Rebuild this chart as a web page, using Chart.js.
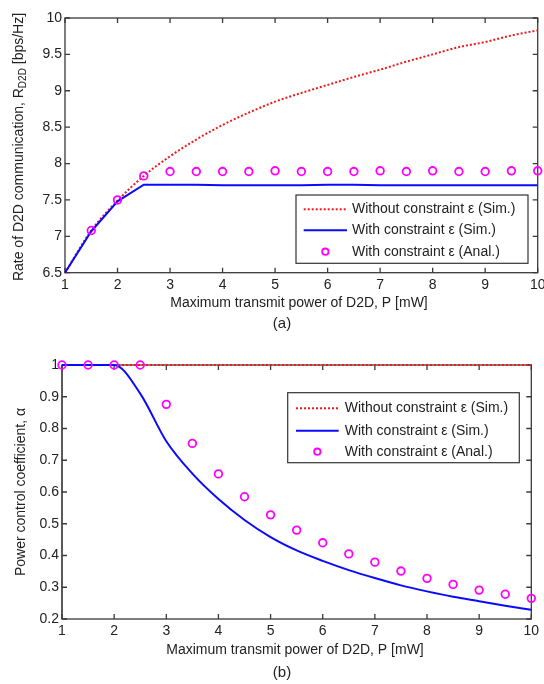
<!DOCTYPE html>
<html><head><meta charset="utf-8">
<script src="https://cdn.jsdelivr.net/npm/chart.js@4.4.1/dist/chart.umd.min.js"></script>
<style>
html,body{margin:0;padding:0;background:#fff;}
#wrap{position:relative;width:544px;height:684px;overflow:hidden;background:#fff;}
.c{position:absolute;left:0;width:544px;}
</style></head><body>
<div id="wrap">
<div class="c" style="top:0;height:340px"><canvas id="c1"></canvas></div>
<div class="c" style="top:340px;height:344px"><canvas id="c2"></canvas></div>
</div>
<script>
// ---------- data ----------
const powerP = [1,1.5,2,2.5,3,3.5,4,4.5,5,5.5,6,6.5,7,7.5,8,8.5,9,9.5,10];
// (a) rate of D2D communication
const rateWithoutSim = [6.5,7.08,7.49,7.83,8.1,8.33,8.53,8.7,8.85,8.97,9.08,9.19,9.29,9.4,9.5,9.6,9.67,9.76,9.83];
const rateWithSim    = [6.5,7.07,7.48,7.71,7.71,7.71,7.70,7.70,7.70,7.70,7.71,7.71,7.70,7.70,7.70,7.70,7.70,7.70,7.70];
const rateAnalP      = [1.5,2,2.5,3,3.5,4,4.5,5,5.5,6,6.5,7,7.5,8,8.5,9,9.5,10];
const rateWithAnal   = [7.08,7.5,7.83,7.89,7.89,7.89,7.89,7.9,7.89,7.89,7.89,7.9,7.89,7.9,7.89,7.89,7.9,7.9];
// (b) power control coefficient
const alphaWithoutSim = [1,1,1,1,1,1,1,1,1,1,1,1,1,1,1,1,1,1,1];
const alphaWithSim    = [1,1,1,0.91,0.76,0.658,0.578,0.512,0.458,0.416,0.383,0.354,0.329,0.306,0.287,0.27,0.256,0.242,0.229];
const alphaWithAnal   = [1,1,1,1,0.876,0.753,0.657,0.585,0.528,0.48,0.44,0.405,0.379,0.351,0.328,0.309,0.291,0.278,0.265];
// ticks
const xTicks = [1,2,3,4,5,6,7,8,9,10];
const xTickLabels = ['1','2','3','4','5','6','7','8','9','10'];
const yTicksRate = [6.5,7,7.5,8,8.5,9,9.5,10];
const yTickLabelsRate = ['6.5','7','7.5','8','8.5','9','9.5','10'];
const yTicksAlpha = [0.2,0.3,0.4,0.5,0.6,0.7,0.8,0.9,1];
const yTickLabelsAlpha = ['0.2','0.3','0.4','0.5','0.6','0.7','0.8','0.9','1'];
const seriesNames = ['Without constraint ε (Sim.)','With constraint ε (Sim.)','With constraint ε (Anal.)'];

// ---------- styling ----------
const FONT = '"Liberation Sans", Arial, sans-serif';
const TXT = '#222';
const RED = '#f01818', BLUE = '#0a0aff', MAG = '#ff00ff';
Chart.defaults.font.family = FONT;
Chart.defaults.color = TXT;

function pts(xs, ys){ return xs.map((x,i)=>({x:x, y:ys[i]})); }

function decorPlugin(cfg){
  return {
    id:'decor',
    beforeDatasetsDraw(chart){
      const {ctx, chartArea:a} = chart;
      const xs = chart.scales.x, ys = chart.scales.y;
      ctx.save();
      ctx.strokeStyle = '#3a3a3a';
      ctx.lineWidth = 1.3;
      ctx.strokeRect(a.left, a.top, a.right-a.left, a.bottom-a.top);
      if (cfg.leftAxisW){
        ctx.strokeStyle = '#5a5a5a'; ctx.lineWidth = cfg.leftAxisW;
        ctx.beginPath(); ctx.moveTo(a.left, a.top); ctx.lineTo(a.left, a.bottom); ctx.stroke();
        ctx.strokeStyle = '#3a3a3a'; ctx.lineWidth = 1.3;
      }
      const TL = 5;
      ctx.beginPath();
      xTicks.forEach(v=>{
        const px = xs.getPixelForValue(v);
        ctx.moveTo(px, a.bottom); ctx.lineTo(px, a.bottom-TL);
        ctx.moveTo(px, a.top); ctx.lineTo(px, a.top+TL);
      });
      cfg.yTicks.forEach(v=>{
        const py = ys.getPixelForValue(v);
        ctx.moveTo(a.left, py); ctx.lineTo(a.left+TL, py);
        ctx.moveTo(a.right, py); ctx.lineTo(a.right-TL, py);
      });
      ctx.stroke();
      ctx.restore();
    },
    afterDraw(chart){
      const {ctx} = chart;
      ctx.save();
      ctx.fillStyle = TXT;
      ctx.font = '14px ' + FONT;
      ctx.textAlign = 'center'; ctx.textBaseline = 'middle';
      ctx.fillText(cfg.xTitle, cfg.xTitlePos[0], cfg.xTitlePos[1]);
      ctx.font = '15px ' + FONT;
      ctx.fillText(cfg.panel, cfg.panelPos[0], cfg.panelPos[1]);
      ctx.save();
      ctx.translate(cfg.yTitlePos[0], cfg.yTitlePos[1]);
      ctx.rotate(-Math.PI/2);
      ctx.textAlign = 'left'; ctx.textBaseline = 'middle';
      const parts = cfg.yTitleParts;
      let total = 0;
      const widths = parts.map(p=>{ ctx.font = (p.sub?'10px ':'14px ') + FONT; const w = ctx.measureText(p.t).width; total += w; return w; });
      let cx = -total/2;
      parts.forEach((p,i)=>{
        ctx.font = (p.sub?'10px ':'14px ') + FONT;
        ctx.fillText(p.t, cx, p.sub ? 4 : 0);
        cx += widths[i];
      });
      ctx.restore();
      const L = cfg.legend;
      ctx.fillStyle = '#fff';
      ctx.fillRect(L.x0, L.y0, L.x1-L.x0, L.y1-L.y0);
      ctx.strokeStyle = '#333'; ctx.lineWidth = 1.2;
      ctx.strokeRect(L.x0, L.y0, L.x1-L.x0, L.y1-L.y0);
      ctx.lineWidth = 2;
      ctx.strokeStyle = RED; ctx.setLineDash([2,2]);
      ctx.beginPath(); ctx.moveTo(L.s0, L.ys[0]); ctx.lineTo(L.s1, L.ys[0]); ctx.stroke();
      ctx.setLineDash([]);
      ctx.strokeStyle = BLUE;
      ctx.beginPath(); ctx.moveTo(L.s0, L.ys[1]); ctx.lineTo(L.s1, L.ys[1]); ctx.stroke();
      ctx.strokeStyle = MAG; ctx.lineWidth = 1.8;
      ctx.beginPath(); ctx.arc((L.s0+L.s1)/2, L.ys[2], 3.2, 0, Math.PI*2); ctx.stroke();
      ctx.fillStyle = TXT; ctx.font = '14px ' + FONT;
      ctx.textAlign = 'left'; ctx.textBaseline = 'middle';
      seriesNames.forEach((n,i)=> ctx.fillText(n, L.tx, L.ys[i]));
      ctx.restore();
    }
  };
}

function makeChart(id, cfg){
  const datasets = [
    { label: seriesNames[2], data: cfg.anal, showLine:false, pointRadius:3.8, pointBorderWidth:1.8,
      pointBackgroundColor:'rgba(0,0,0,0)', pointBorderColor:MAG, borderColor:MAG, clip:false },
    { label: seriesNames[1], data: cfg.withSim, borderColor:BLUE, borderWidth:2, pointRadius:0,
      cubicInterpolationMode: cfg.blueMono ? 'monotone' : 'default', tension:0, clip:false },
    { label: seriesNames[0], data: cfg.without, borderColor:RED, borderWidth:2, borderDash:[2,2],
      borderCapStyle:'butt', pointRadius:0, cubicInterpolationMode:'monotone', clip:false }
  ];
  return new Chart(document.getElementById(id), {
    type:'line',
    data:{ datasets },
    options:{
      responsive:true, maintainAspectRatio:false, animation:false, events:[],
      layout:{ padding: cfg.padding },
      plugins:{ legend:{display:false}, tooltip:{enabled:false}, title:{display:false} },
      scales:{
        x:{ type:'linear', min:1, max:10,
            afterBuildTicks: s=>{ s.ticks = xTicks.map(v=>({value:v})); },
            ticks:{ callback:(v,i)=>xTickLabels[i], padding:4, maxRotation:0, autoSkip:false,
                    color:TXT, font:{size:14, family:FONT} },
            grid:{ display:false, drawTicks:false }, border:{ display:false },
            afterFit: s=>{ s.height = cfg.xH; s.paddingLeft = 0; s.paddingRight = 0; } },
        y:{ type:'linear', min:cfg.yMin, max:cfg.yMax,
            afterBuildTicks: s=>{ s.ticks = cfg.yTicks.map(v=>({value:v})); },
            ticks:{ callback:(v,i)=>cfg.yLabels[i], padding:3, autoSkip:false,
                    color:TXT, font:{size:14, family:FONT} },
            grid:{ display:false, drawTicks:false }, border:{ display:false },
            afterFit: s=>{ s.width = cfg.yW; s.paddingTop = 0; s.paddingBottom = 0; } }
      }
    },
    plugins:[ decorPlugin(cfg) ]
  });
}

makeChart('c1', {
  without: pts(powerP, rateWithoutSim),
  withSim: pts(powerP, rateWithSim),
  anal: pts(rateAnalP, rateWithAnal),
  blueMono:false,
  yMin:6.5, yMax:10, yTicks:yTicksRate, yLabels:yTickLabelsRate,
  padding:{ top:18, right:6.3, left:0, bottom:0 }, xH:67.3, yW:65,
  xTitle:'Maximum transmit power of D2D, P [mW]', xTitlePos:[299, 303],
  panel:'(a)', panelPos:[282, 324],
  yTitleParts:[{t:'Rate of D2D communication, R'},{t:'D2D',sub:true},{t:' [bps/Hz]'}],
  yTitlePos:[19, 147],
  legend:{ x0:296, y0:195, x1:528, y1:263.3, s0:303.7, s1:347, tx:352, ys:[209.3, 230.3, 251.7] }
});

makeChart('c2', {
  without: pts(powerP, alphaWithoutSim),
  withSim: pts(powerP, alphaWithSim),
  anal: pts(powerP, alphaWithAnal),
  blueMono:true,
  yMin:0.2, yMax:1, yTicks:yTicksAlpha, yLabels:yTickLabelsAlpha,
  padding:{ top:25, right:12.7, left:0, bottom:0 }, xH:65, yW:62,
  leftAxisW:2,
  xTitle:'Maximum transmit power of D2D, P [mW]', xTitlePos:[295, 310],
  panel:'(b)', panelPos:[282, 333],
  yTitleParts:[{t:'Power control coefficient, α'}],
  yTitlePos:[21, 152],
  legend:{ x0:287.7, y0:52.7, x1:519.3, y1:122.7, s0:296, s1:338.7, tx:344.7, ys:[68.3, 90.7, 111.7] }
});
</script>
</body></html>
